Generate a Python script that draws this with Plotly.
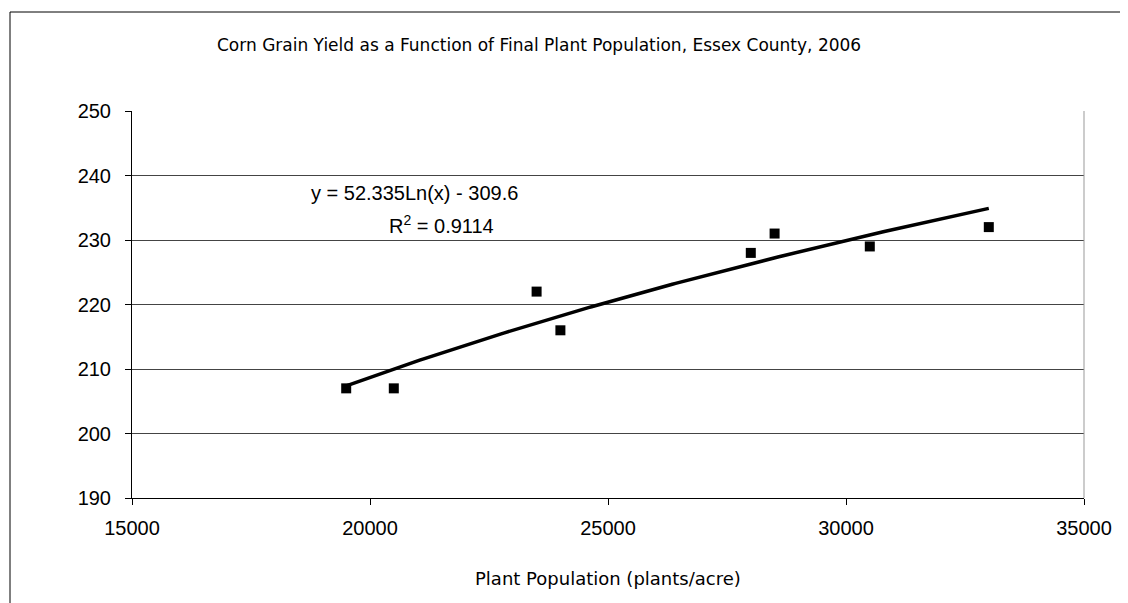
import numpy as np
import plotly.graph_objects as go

population = [19500, 20500, 23500, 24000, 28000, 28500, 30500, 33000]
yield_bu = [207, 207, 222, 216, 228, 231, 229, 232]
coef_a = 52.335
coef_b = -309.6
r2 = 0.9114
title = "Corn Grain Yield as a Function of Final Plant Population, Essex County, 2006"
x_title = "Plant Population (plants/acre)"
x_ticks = [15000, 20000, 25000, 30000, 35000]
y_ticks = [190, 200, 210, 220, 230, 240, 250]

# page body has an 8px default margin; size the figure so screen positions match
OFF = 8
W, H = 1128 - OFF, 603 - OFF
L, R, T, B = 132 - OFF, 44, 111 - OFF, 105
pw, ph = W - L - R, H - T - B


def px_x(sx):
    return (sx - OFF - L) / pw


def px_y(sy):
    return 1 - (sy - OFF - T) / ph


xs = np.linspace(min(population), max(population), 200)
ys = coef_a * np.log(xs) + coef_b

fig = go.Figure()
fig.add_trace(go.Scatter(x=xs, y=ys, mode="lines",
                         line=dict(color="black", width=3.5), hoverinfo="skip"))
fig.add_trace(go.Scatter(x=population, y=yield_bu, mode="markers",
                         marker=dict(symbol="square", size=10, color="black")))

font = "Liberation Sans, Arial, sans-serif"
wide = "DejaVu Sans, Verdana, sans-serif"

fig.update_layout(
    width=W, height=H, showlegend=False,
    margin=dict(l=L, r=R, t=T, b=B),
    paper_bgcolor="white", plot_bgcolor="white",
    font=dict(family=font, color="black", size=20),
    xaxis=dict(range=[15000, 35000], tickvals=x_ticks, ticktext=[str(v) for v in x_ticks],
               showgrid=False, zeroline=False, showline=True, linecolor="black", linewidth=1,
               ticks="outside", ticklen=6, tickcolor="black", ticklabelstandoff=6,
               tickfont=dict(size=20)),
    yaxis=dict(range=[190, 250], tickvals=y_ticks, ticktext=[str(v) for v in y_ticks],
               showgrid=True, gridcolor="#444444", gridwidth=1, zeroline=False,
               showline=True, linecolor="black", linewidth=1,
               ticks="outside", ticklen=6, tickcolor="black", ticklabelstandoff=10,
               tickfont=dict(size=20)),
    annotations=[
        dict(text=title, xref="paper", yref="paper",
             x=px_x(539), y=px_y(45), showarrow=False,
             xanchor="center", yanchor="middle", font=dict(size=17, family=wide)),
        dict(text=x_title, xref="paper", yref="paper",
             x=px_x(608), y=px_y(578), showarrow=False,
             xanchor="center", yanchor="middle", font=dict(size=18, family=wide)),
        dict(text=f"y = {coef_a}Ln(x) - {abs(coef_b)}", xref="paper", yref="paper",
             x=px_x(414), y=px_y(193), showarrow=False,
             xanchor="center", yanchor="middle", font=dict(size=20)),
        dict(text=f"R<sup>2</sup> = {r2}", xref="paper", yref="paper",
             x=px_x(441), y=px_y(224), showarrow=False,
             xanchor="center", yanchor="middle", font=dict(size=20)),
    ],
    shapes=[
        dict(type="rect", xref="paper", yref="paper",
             x0=px_x(10), x1=px_x(1140),
             y0=px_y(620), y1=px_y(12),
             line=dict(color="black", width=1), fillcolor="rgba(0,0,0,0)", layer="below"),
        dict(type="line", xref="paper", yref="paper", x0=1, x1=1, y0=0, y1=1,
             line=dict(color="#999999", width=1)),
    ],
)

fig.write_html("out.html")
